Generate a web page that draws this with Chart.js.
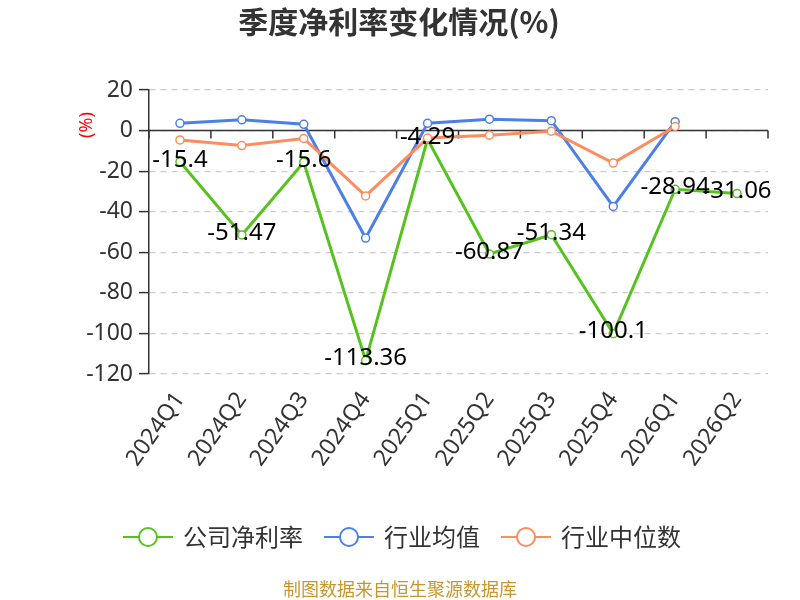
<!DOCTYPE html>
<html>
<head>
<meta charset="utf-8">
<script src="https://cdn.jsdelivr.net/npm/chart.js@4/dist/chart.umd.min.js"></script>
<style>
  html, body { margin: 0; padding: 0; background: #fff; }
  canvas { display: block; }
</style>
</head>
<body>
<canvas id="rateChart" width="800" height="600"></canvas>
<script>
// 季度净利率数据 (%)
const quarters = ['2024Q1', '2024Q2', '2024Q3', '2024Q4', '2025Q1', '2025Q2', '2025Q3', '2025Q4', '2026Q1', '2026Q2'];
const companyRate = [-15.4, -51.47, -15.6, -113.36, -4.29, -60.87, -51.34, -100.1, -28.94, -31.06];
const industryAvg = [3.6, 5.3, 3.1, -53, 3.6, 5.6, 4.9, -37.4, 4.4, null];
const industryMedian = [-4.6, -7.4, -3.9, -32.2, -3.7, -2.3, -0.3, -16, 2, null];
const seriesNames = ['公司净利率', '行业均值', '行业中位数'];
const yMin = -120;
const yMax = 20;
const yStep = 20;

const GREEN = '#56c21f';
const BLUE = '#4d80e6';
const ORANGE = '#ff8c5e';
const FONT = '"Noto Sans", "Noto Sans CJK SC", sans-serif';
const CJK = '"Noto Sans CJK SC", "Noto Sans", sans-serif';

function lineSet(label, data, color, order) {
  return {
    label: label,
    data: data,
    borderColor: color,
    backgroundColor: color,
    borderWidth: 3,
    pointRadius: 4,
    pointHoverRadius: 4,
    pointBorderWidth: 1.5,
    pointBackgroundColor: '#fff',
    pointBorderColor: color,
    tension: 0,
    spanGaps: false,
    order: order
  };
}

const decor = {
  id: 'decor',
  beforeDraw(chart) {
    const ctx = chart.ctx;
    ctx.save();
    ctx.fillStyle = '#fff';
    ctx.fillRect(0, 0, chart.width, chart.height);
    ctx.restore();
  },
  beforeDatasetsDraw(chart) {
    // axe des x sur la ligne zéro, avec graduations entre catégories
    const ctx = chart.ctx;
    const area = chart.chartArea;
    const xs = chart.scales.x;
    const y0 = chart.scales.y.getPixelForValue(0);
    const n = quarters.length;
    ctx.save();
    ctx.strokeStyle = '#333';
    ctx.lineWidth = 1.5;
    ctx.beginPath();
    ctx.moveTo(area.left, y0);
    ctx.lineTo(area.right, y0);
    for (let i = 0; i <= n; i++) {
      let x;
      if (i === 0) x = area.left;
      else if (i === n) x = area.right;
      else x = (xs.getPixelForValue(i - 1) + xs.getPixelForValue(i)) / 2;
      ctx.moveTo(x, y0);
      ctx.lineTo(x, y0 + 8);
    }
    ctx.stroke();
    ctx.restore();
  },
  afterDatasetsDraw(chart) {
    const ctx = chart.ctx;
    const meta = chart.getDatasetMeta(0);
    ctx.save();
    ctx.font = '24px ' + FONT;
    ctx.fillStyle = '#000';
    ctx.textAlign = 'center';
    ctx.textBaseline = 'middle';
    meta.data.forEach((pt, i) => {
      ctx.fillText(String(companyRate[i]), pt.x, pt.y - 2);
    });
    ctx.restore();
  },
  afterDraw(chart) {
    const ctx = chart.ctx;
    ctx.save();
    // titre
    ctx.font = 'bold 30px ' + CJK;
    ctx.fillStyle = '#333';
    ctx.textAlign = 'center';
    ctx.textBaseline = 'middle';
    ctx.fillText('季度净利率变化情况(%)', 399, 22);

    // unité de l'axe y
    ctx.save();
    ctx.translate(87, 125);
    ctx.rotate(-Math.PI / 2);
    ctx.font = '18px ' + FONT;
    ctx.fillStyle = '#ff0000';
    ctx.fillText('(%)', 0, 0);
    ctx.restore();

    // légende
    const colors = [GREEN, BLUE, ORANGE];
    ctx.font = '24px ' + CJK;
    const iconW = 50, iconGap = 10, itemGap = 21;
    const widths = seriesNames.map(s => ctx.measureText(s).width);
    let total = widths.reduce((a, b) => a + b, 0) + seriesNames.length * (iconW + iconGap) + (seriesNames.length - 1) * itemGap;
    let x = 402 - total / 2;
    const ly = 537;
    seriesNames.forEach((name, i) => {
      ctx.strokeStyle = colors[i];
      ctx.lineWidth = 2;
      ctx.beginPath();
      ctx.moveTo(x, ly);
      ctx.lineTo(x + iconW, ly);
      ctx.stroke();
      ctx.beginPath();
      ctx.arc(x + iconW / 2, ly, 9, 0, Math.PI * 2);
      ctx.fillStyle = '#fff';
      ctx.fill();
      ctx.stroke();
      ctx.fillStyle = '#333';
      ctx.textAlign = 'left';
      ctx.fillText(name, x + iconW + iconGap, ly);
      x += iconW + iconGap + widths[i] + itemGap;
    });

    // source
    ctx.font = '18px ' + CJK;
    ctx.fillStyle = '#c8962d';
    ctx.textAlign = 'center';
    ctx.fillText('制图数据来自恒生聚源数据库', 400, 589);
    ctx.restore();
  }
};

const ctx = document.getElementById('rateChart').getContext('2d');
window.rateChart = new Chart(ctx, {
  type: 'line',
  data: {
    labels: quarters,
    datasets: [
      lineSet(seriesNames[0], companyRate, GREEN, 2),
      lineSet(seriesNames[1], industryAvg, BLUE, 1),
      lineSet(seriesNames[2], industryMedian, ORANGE, 0)
    ]
  },
  options: {
    responsive: false,
    animation: false,
    devicePixelRatio: 1,
    layout: { padding: { top: 90, right: 32, bottom: 0, left: 0 } },
    plugins: {
      legend: { display: false },
      title: { display: false },
      tooltip: { enabled: false }
    },
    scales: {
      x: {
        type: 'category',
        offset: true,
        grid: { display: false, drawTicks: false },
        border: { display: false },
        ticks: {
          color: '#333',
          font: { size: 23, family: FONT },
          maxRotation: 55,
          minRotation: 55,
          padding: 13,
          autoSkip: false
        },
        afterFit(scale) { scale.height = 226; }
      },
      y: {
        min: yMin,
        max: yMax,
        ticks: {
          stepSize: yStep,
          color: '#333',
          font: { size: 23, family: FONT },
          padding: 6
        },
        grid: {
          color: '#ccc',
          lineWidth: 1.2,
          tickColor: '#333',
          tickLength: 10,
          tickWidth: 1.5,
          tickBorderDash: []
        },
        border: { display: true, color: '#333', width: 1.5, dash: [6, 5] },
        afterFit(scale) { scale.width = 149; }
      }
    }
  },
  plugins: [decor]
});
</script>
</body>
</html>
